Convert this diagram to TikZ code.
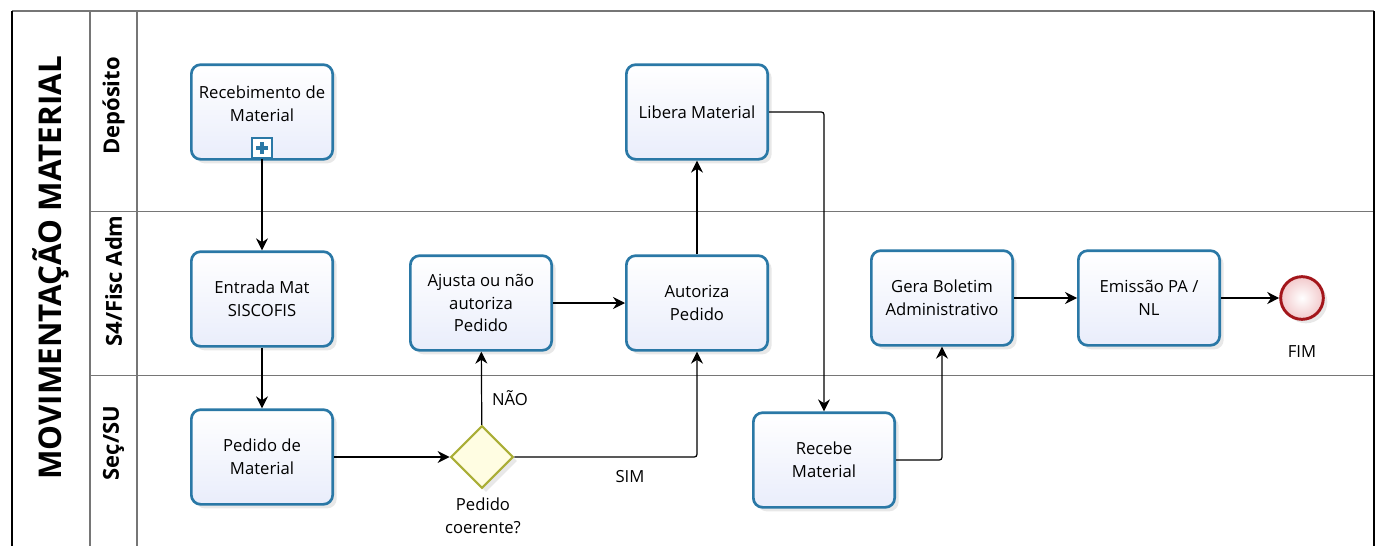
\documentclass[tikz,border=0pt]{standalone}
\usepackage{fontspec}
\setmainfont{Open Sans}
\usetikzlibrary{arrows.meta,shapes.geometric,shadows}

\definecolor{taskblue}{HTML}{2A78A6}
\definecolor{taskfill}{HTML}{E9EDFB}
\definecolor{gatefill}{HTML}{FFFDE2}
\definecolor{gateline}{HTML}{AAAE36}
\definecolor{endred}{HTML}{A3161B}
\definecolor{endfill}{HTML}{F2C9CB}
\definecolor{lanegray}{HTML}{767676}

\begin{document}
\begin{tikzpicture}[x=0.75pt, y=-0.75pt,
	task/.style={rectangle, rounded corners=7pt, draw=taskblue, line width=2pt,
		top color=white, bottom color=taskfill, minimum width=106pt, minimum height=71pt,
		align=center, font=\fontsize{12.5}{17}\selectfont,
		drop shadow={opacity=0.18, shadow xshift=3pt, shadow yshift=-3pt}},
	gate/.style={diamond, aspect=1, draw=gateline, line width=1.6pt, fill=gatefill,
		minimum size=47pt, inner sep=0pt,
		drop shadow={opacity=0.18, shadow xshift=3pt, shadow yshift=-3pt}},
	endev/.style={circle, draw=endred, line width=2.2pt, inner color=white, outer color=endfill,
		minimum size=32pt, inner sep=0pt,
		drop shadow={opacity=0.18, shadow xshift=3pt, shadow yshift=-3pt}},
	txt/.style={align=center, font=\fontsize{12.5}{17}\selectfont},
	lanetxt/.style={rotate=90, font=\fontsize{16.5}{19}\selectfont\bfseries},
	flow/.style={draw, line width=0.9pt, rounded corners=2pt, -{Stealth[length=9pt, width=9pt]}},
	lane/.style={draw=lanegray, line width=1.1pt}]
	\useasboundingbox (0,0) rectangle (1381,546);

	% pool and lanes
	\draw[lane] (12,11) -- (1374,11);
	\draw[lane] (90,211.5) -- (1374,211.5);
	\draw[lane] (90,375.5) -- (1374,375.5);
	\draw[lane] (90,11) -- (90,546);
	\draw[lane] (137,11) -- (137,546);
	\draw[line width=1.3pt] (12,11) -- (12,546);
	\draw[line width=1.5pt] (1374,11) -- (1374,546);

	\node[rotate=90, font=\fontsize{23.5}{28}\selectfont\bfseries] (pool) at (51,268) {MOVIMENTAÇÃO MATERIAL};
	\node[lanetxt] (deposito) at (113.5,106) {Depósito};
	\node[lanetxt] (s4) at (113.5,281) {S4/Fisc Adm};
	\node[lanetxt] (secsu) at (113.5,443) {Seç/SU};

	% tasks
	\node[task] (receb) at (262,112) {};
	\node[txt] (recebtxt) at (262,104) {Recebimento de\\Material};
	\node[draw=taskblue, line width=1.2pt, fill=white, minimum size=15pt, inner sep=0pt] (plus) at (262,148) {};
	\draw[taskblue, line width=2.6pt] (plus.center) +(-6,0) -- +(6,0);
	\draw[taskblue, line width=2.6pt] (plus.center) +(0,-6) -- +(0,6);
	\node[task] (entrada) at (262,299) {Entrada Mat\\SISCOFIS};
	\node[task] (pedido) at (262,457) {Pedido de\\Material};
	\node[gate] (gw) at (482,457) {};
	\node[txt] (gwtxt) at (483,516) {Pedido\\coerente?};
	\node[task] (ajusta) at (481,303) {Ajusta ou não\\autoriza\\Pedido};
	\node[task] (autoriza) at (697,303) {Autoriza\\Pedido};
	\node[task] (libera) at (697,112) {Libera Material};
	\node[task] (recebe) at (824,460) {Recebe\\Material};
	\node[task] (gera) at (942,298) {Gera Boletim\\Administrativo};
	\node[task] (emissao) at (1149,298) {Emissão PA /\\NL};
	\node[endev] (fim) at (1302,298) {};
	\node[txt] (fimtxt) at (1302,352) {FIM};

	\node[txt] (nao) at (510,398) {NÃO};
	\node[txt] (sim) at (630,477) {SIM};

	% flows
	\draw[flow] (plus) -- (entrada);
	\draw[flow] (entrada) -- (pedido);
	\draw[flow] (pedido) -- (gw);
	\draw[flow] (gw) -- (ajusta);
	\draw[flow] (gw.east) -| (autoriza.south);
	\draw[flow] (ajusta) -- (autoriza);
	\draw[flow] (autoriza) -- (libera);
	\draw[flow] (libera.east) -| (recebe.north);
	\draw[flow] (recebe.east) -| (gera.south);
	\draw[flow] (gera) -- (emissao);
	\draw[flow] (emissao) -- (fim);
\end{tikzpicture}
\end{document}
